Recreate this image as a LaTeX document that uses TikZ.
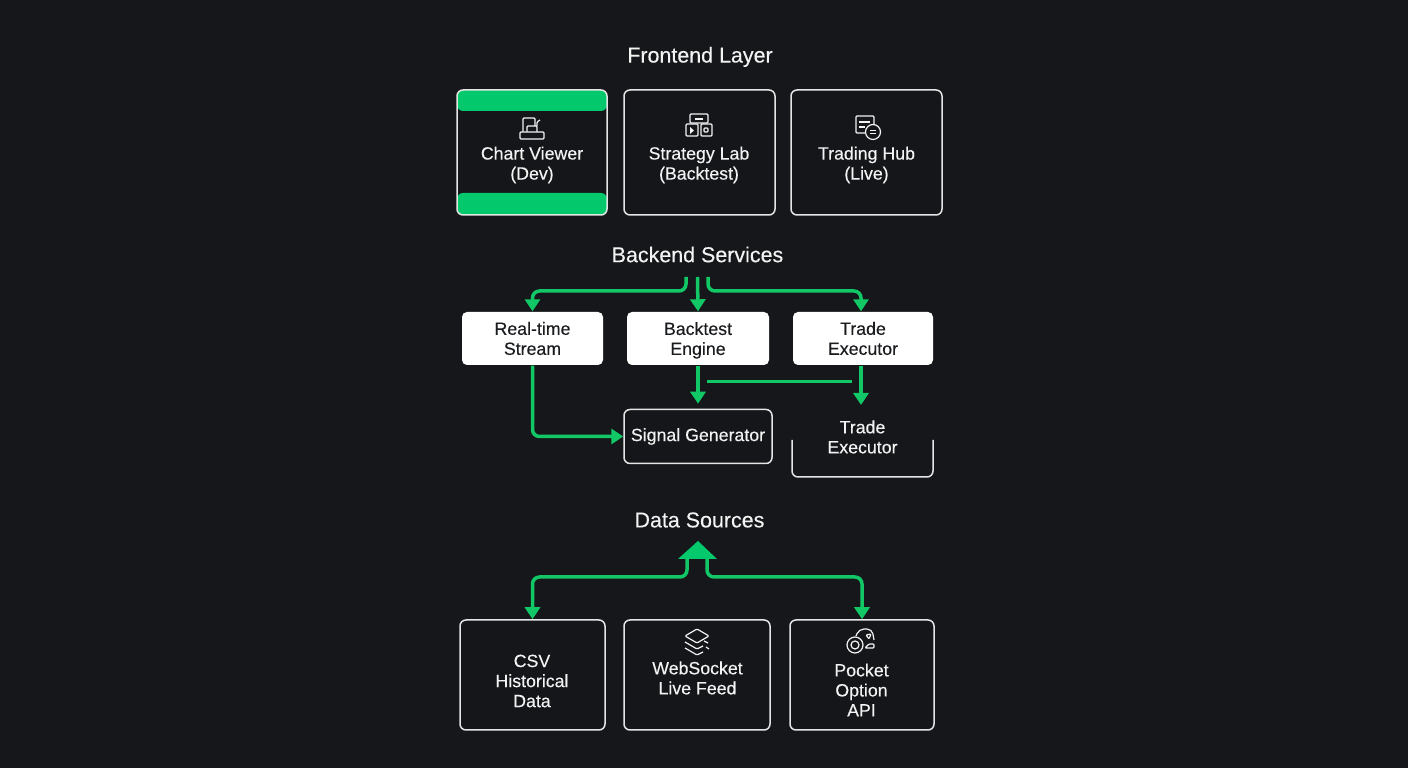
\documentclass[tikz,border=0pt]{standalone}
\usepackage{fontspec}
\setmainfont{Liberation Sans}[FakeBold=0.25]
\usetikzlibrary{arrows.meta}

\definecolor{bgdark}{HTML}{15171A}
\definecolor{boxdark}{HTML}{141619}
\definecolor{linegreen}{HTML}{12C765}
\definecolor{bargreen}{HTML}{03C96C}
\definecolor{edgewhite}{HTML}{E4E6E6}
\definecolor{textwhite}{HTML}{F2F3F3}
\definecolor{textdark}{HTML}{1A1C1F}

\tikzset{
  layertitle/.style={text=textwhite, font=\fontsize{6.1}{7}\selectfont},
  boxlabel/.style={text=textwhite, align=center, inner sep=0, font=\fontsize{5.05}{5.7}\selectfont},
  framebox/.style={draw=edgewhite, line width=0.015cm, fill=boxdark, rounded corners=0.06cm, inner sep=0},
  whitebox/.style={fill=white, rounded corners=0.05cm, text=textdark, align=center, inner sep=0,
    font=\fontsize{5.05}{5.7}\selectfont},
  greenline/.style={draw=linegreen, line width=0.035cm, rounded corners=0.07cm},
  greenarrow/.style={greenline, -{Triangle[width=0.15cm,length=0.12cm]}},
  icon/.style={draw=textwhite, line width=0.012cm, rounded corners=0.01cm},
}

\begin{document}
\begin{tikzpicture}
  \fill[bgdark] (0, 0) rectangle (14.08, 7.68);

  \node[layertitle] (frontend) at (7.00, 7.11) {Frontend Layer};
  \node[framebox, minimum width=1.50cm, minimum height=1.25cm, path picture={
    \fill[bargreen] (path picture bounding box.north west) rectangle ([yshift=-0.21cm]path picture bounding box.north east);
    \fill[bargreen] (path picture bounding box.south west) rectangle ([yshift=0.22cm]path picture bounding box.south east);
  }] (chart) at (5.32, 6.155) {};
  \node[framebox, minimum width=1.51cm, minimum height=1.25cm] (lab) at (6.995, 6.155) {};
  \node[framebox, minimum width=1.51cm, minimum height=1.25cm] (hub) at (8.665, 6.155) {};
  \node[boxlabel] (chartname) at (5.32, 6.03) {Chart Viewer\\(Dev)};
  \node[boxlabel] (labname) at (6.99, 6.03) {Strategy Lab\\(Backtest)};
  \node[boxlabel] (hubname) at (8.665, 6.03) {Trading Hub\\(Live)};

  \draw[icon] (5.23, 6.32) -- (5.23, 6.50) -- (5.35, 6.50) -- (5.35, 6.42);
  \draw[icon] (5.27, 6.36) -- (5.27, 6.42) -- (5.37, 6.42) -- (5.37, 6.36);
  \draw[icon] (5.37, 6.42) -- (5.37, 6.46) -- (5.40, 6.48);
  \draw[icon, fill=boxdark] (5.20, 6.29) rectangle (5.44, 6.36);
  \draw[icon] (6.90, 6.45) rectangle (7.08, 6.54);
  \draw[icon] (6.86, 6.32) rectangle (6.98, 6.44);
  \draw[icon] (7.01, 6.32) rectangle (7.12, 6.44);
  \fill[textwhite] (6.90, 6.34) -- (6.90, 6.41) -- (6.94, 6.375) -- cycle;
  \draw[icon] (7.04, 6.36) rectangle (7.08, 6.40);
  \draw[icon] (6.95, 6.49) -- (7.03, 6.49);
  \draw[icon] (8.74, 6.35) -- (8.56, 6.35) -- (8.56, 6.52) -- (8.74, 6.52) -- (8.74, 6.44);
  \draw[icon] (8.59, 6.46) -- (8.70, 6.46);
  \draw[icon] (8.59, 6.41) -- (8.65, 6.41);
  \draw[icon, fill=boxdark] (8.73, 6.36) circle (0.075);
  \draw[icon] (8.70, 6.375) -- (8.76, 6.375);
  \draw[icon] (8.70, 6.345) -- (8.76, 6.345);

  \node[layertitle] (backend) at (6.975, 5.135) {Backend Services};
  \node[whitebox, minimum width=1.41cm, minimum height=0.53cm] (stream) at (5.325, 4.295) {Real-time\\Stream};
  \node[whitebox, minimum width=1.42cm, minimum height=0.53cm] (engine) at (6.98, 4.295) {Backtest\\\smash{Engine}};
  \node[whitebox, minimum width=1.40cm, minimum height=0.53cm] (exec) at (8.63, 4.295) {Trade\\Executor};
  \node[framebox, boxlabel, minimum width=1.48cm, minimum height=0.54cm] (signal) at (6.98, 3.315) {Signal Generator};
  \node[boxlabel] (tradelow) at (8.625, 3.31) {Trade\\Executor};
  \draw[draw=edgewhite, line width=0.015cm, rounded corners=0.06cm]
    (7.92, 3.28) -- (7.92, 2.91) -- (9.33, 2.91) -- (9.33, 3.28);

  \coordinate (busleft) at (6.86, 4.91);
  \coordinate (busmid) at (6.975, 4.91);
  \coordinate (busright) at (7.08, 4.91);
  \coordinate (linkleft) at (7.07, 3.86);
  \coordinate (linkright) at (8.52, 3.86);
  \coordinate (tradein) at (8.61, 3.63);

  \draw[greenarrow] (busleft) -- (6.86, 4.77) -| (stream.north);
  \draw[greenarrow] (busmid) -- (engine.north);
  \draw[greenarrow] (busright) -- (7.08, 4.77) -| ([xshift=-0.02cm]exec.north);
  \draw[greenarrow] (stream.south) |- (signal.west);
  \draw[greenarrow, shorten >=0.05cm] (engine.south) -- (signal.north);
  \draw[greenarrow] ([xshift=-0.02cm]exec.south) -- (tradein);
  \draw[greenline, line width=0.03cm] (linkleft) -- (linkright);

  \node[layertitle] (sources) at (6.995, 2.48) {Data Sources};
  \node[framebox, minimum width=1.45cm, minimum height=1.10cm] (csv) at (5.325, 0.93) {};
  \node[framebox, minimum width=1.46cm, minimum height=1.10cm] (socket) at (6.97, 0.93) {};
  \node[framebox, minimum width=1.44cm, minimum height=1.10cm] (pocket) at (8.62, 0.93) {};
  \node[boxlabel] (csvname) at (5.32, 0.87) {CSV\\Historical\\Data};
  \node[boxlabel] (socketname) at (6.975, 0.90) {WebSocket\\Live Feed};
  \node[boxlabel] (pocketname) at (8.615, 0.78) {Pocket\\Option\\API};

  \draw[icon] (6.97, 1.39) -- (7.09, 1.32) -- (6.97, 1.25) -- (6.85, 1.32) -- cycle;
  \draw[icon] (6.85, 1.26) -- (6.97, 1.19) -- (7.03, 1.22);
  \draw[icon] (6.85, 1.20) -- (6.97, 1.13) -- (7.03, 1.16);
  \draw[icon] (7.04, 1.27) -- (7.08, 1.25);
  \draw[icon] (7.06, 1.21) -- (7.09, 1.19);
  \draw[icon] (8.55, 1.23) circle (0.08);
  \draw[icon] (8.55, 1.23) circle (0.04);
  \draw[icon, rounded corners=0.05cm] (8.56, 1.32) -- (8.59, 1.39) -- (8.72, 1.39) -- (8.74, 1.28);
  \draw[icon] (8.66, 1.33) -- (8.71, 1.34) -- (8.69, 1.29) -- cycle;
  \draw[icon] (8.65, 1.20) -- (8.74, 1.20) -- (8.74, 1.24) -- (8.69, 1.24) -- cycle;

  \coordinate (tipleft) at (6.87, 2.09);
  \coordinate (tipright) at (7.07, 2.09);

  \draw[greenarrow] (tipleft) -- (6.87, 1.91) -| (csv.north);
  \draw[greenarrow] (tipright) -- (7.07, 1.91) -| (pocket.north);
  \fill[bargreen] (6.98, 2.27) -- (7.17, 2.09) -- (6.78, 2.09) -- cycle;
\end{tikzpicture}
\end{document}
